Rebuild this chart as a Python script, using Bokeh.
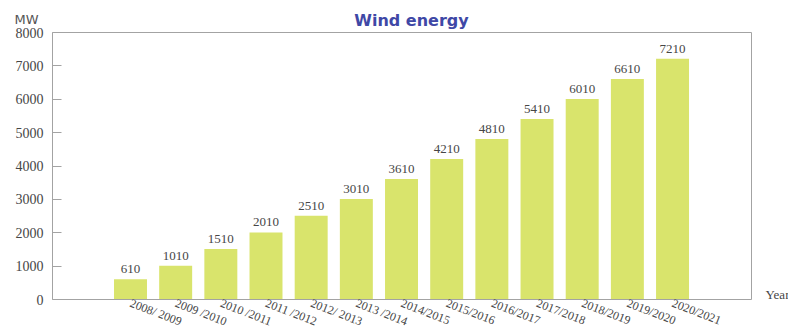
import math
from bokeh.plotting import figure
from bokeh.models import (ColumnDataSource, LabelSet, Label, FixedTicker, Range1d,
                          LinearAxis)
from bokeh.embed import file_html
from bokeh.resources import INLINE

# Installed wind capacity per season (MW)
seasons = ["2008/ 2009", "2009 /2010", "2010 /2011", "2011 /2012", "2012/ 2013",
           "2013 /2014", "2014/2015", "2015/2016", "2016/2017", "2017/2018",
           "2018/2019", "2019/2020", "2020/2021"]
capacity_mw = [610, 1010, 1510, 2010, 2510, 3010, 3610, 4210, 4810, 5410, 6010, 6610, 7210]
y_ticks = [0, 1000, 2000, 3000, 4000, 5000, 6000, 7000, 8000]
y_max = 8000

W, H = 788, 329

# page geometry: the plot box spans x 52..751 px, y 32..299 px,
# first bar centred at 130 px, bars 45.17 px apart
BOX_L, BOX_R, BOX_T, BOX_B = 52, 751, 32, 299
BAR0_PX, STEP_PX = 130.0, 45.17


def px_to_x(px):
    return (px - BAR0_PX) / STEP_PX


def py_to_y(py):
    return (BOX_B - py) * y_max / (BOX_B - BOX_T)


idx = list(range(len(seasons)))
src = ColumnDataSource(dict(x=idx, top=capacity_mw,
                            label=[str(v) for v in capacity_mw]))

p = figure(width=W, height=H, output_backend="svg", toolbar_location=None,
           x_range=Range1d(px_to_x(0), px_to_x(W)),
           y_range=Range1d(py_to_y(H), py_to_y(0)),
           x_axis_location=None, y_axis_location=None,
           min_border=0, background_fill_color="white", border_fill_color="white")
p.outline_line_color = None
p.xgrid.visible = False
p.ygrid.visible = False

GRAY = "#a3a3a3"
TXT = "#464646"
x_box = (px_to_x(BOX_L), px_to_x(BOX_R))
y_box = (0, y_max)

# value axis on the left edge of the box, ticks pointing inwards
ya = LinearAxis(fixed_location=x_box[0], bounds=y_box, ticker=FixedTicker(ticks=y_ticks))
ya.axis_line_color = GRAY
ya.major_tick_line_color = GRAY
ya.major_tick_in = 9
ya.major_tick_out = 0
ya.minor_tick_line_color = None
ya.major_label_standoff = 9
ya.major_label_text_font = "Liberation Serif"
ya.major_label_text_font_size = "14px"
ya.major_label_text_color = TXT
p.add_layout(ya, "left")

# season axis along the bottom edge, slanted labels
xa = LinearAxis(fixed_location=0, bounds=x_box, ticker=FixedTicker(ticks=idx),
                major_label_overrides={i: s for i, s in zip(idx, seasons)})
xa.axis_line_color = GRAY
xa.major_tick_line_color = None
xa.minor_tick_line_color = None
xa.major_tick_in = 0
xa.major_tick_out = 0
xa.major_label_standoff = 3
xa.major_label_orientation = -math.radians(21)
xa.major_label_text_font = "Liberation Serif"
xa.major_label_text_font_size = "12px"
xa.major_label_text_color = TXT
p.add_layout(xa, "below")

# top and right edges of the box
for side, loc, bnds in (("above", y_max, x_box), ("right", x_box[1], y_box)):
    ax = LinearAxis(fixed_location=loc, bounds=bnds, ticker=FixedTicker(ticks=[]))
    ax.axis_line_color = GRAY
    ax.major_tick_line_color = None
    ax.minor_tick_line_color = None
    ax.major_label_text_font_size = "0px"
    p.add_layout(ax, side)

p.vbar(x="x", top="top", width=0.73, source=src,
       fill_color="#d9e46c", line_color=None)

# value labels above the bars
p.add_layout(LabelSet(x="x", y="top", text="label", source=src,
                      y_offset=6, text_align="center", text_baseline="bottom",
                      text_font="Liberation Serif", text_font_size="13px",
                      text_color=TXT))

p.add_layout(Label(x=px_to_x(411), y=py_to_y(20), text="Wind energy",
                   text_align="center", text_baseline="middle",
                   text_font="DejaVu Sans", text_font_style="bold",
                   text_font_size="16px", text_color="#3f48a6"))

p.add_layout(Label(x=px_to_x(14), y=py_to_y(19), text="MW",
                   text_align="left", text_baseline="middle",
                   text_font="DejaVu Sans", text_font_size="13px",
                   text_color="#555555"))

p.add_layout(Label(x=px_to_x(765), y=py_to_y(294), text="Year",
                   text_align="left", text_baseline="middle",
                   text_font="Liberation Serif", text_font_size="13px",
                   text_color=TXT))

open("out.html", "w").write(file_html(p, INLINE))
